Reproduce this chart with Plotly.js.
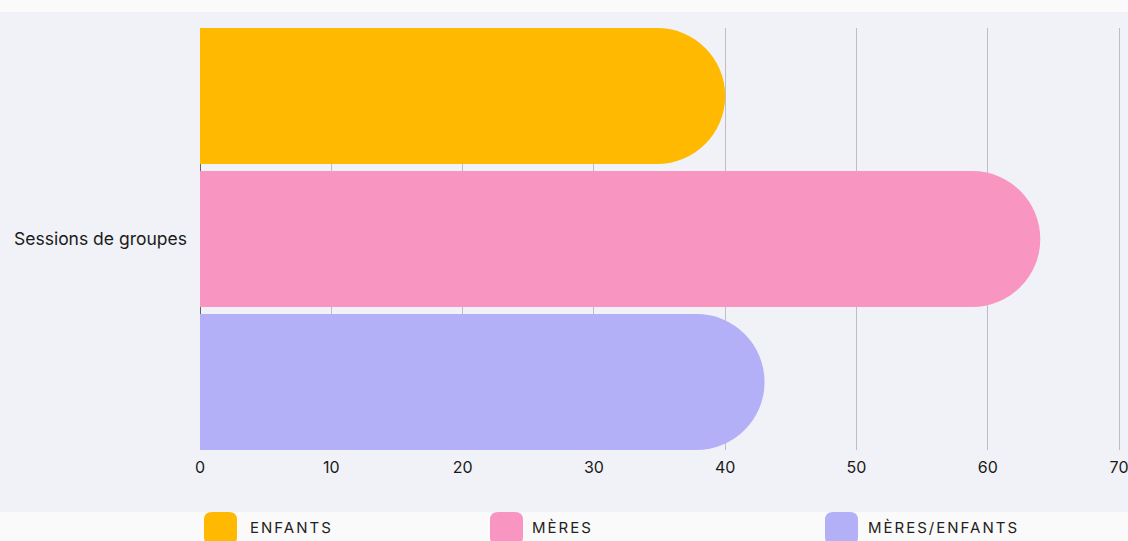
<!DOCTYPE html>
<html>
<head>
<meta charset="utf-8">
<script src="https://cdn.plot.ly/plotly-3.0.1.min.js"></script>
<style>
html,body{margin:0;padding:0;background:#fafafa;}
#chart{width:1128px;height:541px;}
.annotation-text{letter-spacing:2px;}
</style>
</head>
<body>
<div id="chart"></div>
<script>
// ---- data ----
const categories = ['Sessions de groupes'];
const seriesNames = ['ENFANTS', 'MÈRES', 'MÈRES/ENFANTS'];
const enfants = [40];
const meres = [64];
const meresEnfants = [43];
const xTickValues = [0, 10, 20, 30, 40, 50, 60, 70];

// ---- style ----
const colors = ['#FFB900', '#F995C1', '#B4B0F7'];
const W = 1128, H = 541;
const M = {l: 200, r: 5, t: 28, b: 91};
const PW = W - M.l - M.r, PH = H - M.t - M.b;
const fx = px => (px - M.l) / PW;
const fy = py => (H - M.b - py) / PH;

const seriesValues = [enfants, meres, meresEnfants];
const traces = seriesValues.map((vals, i) => ({
  type: 'bar',
  orientation: 'h',
  name: seriesNames[i],
  y: categories,
  x: vals,
  marker: {color: colors[i], cornerradius: '50%', line: {width: 0}},
  showlegend: false,
  hoverinfo: 'x+name'
}));

const g = 0.049;
const shapes = [{
  type: 'rect', xref: 'paper', yref: 'paper', layer: 'below',
  x0: fx(0), x1: fx(W), y0: fy(512), y1: fy(12),
  fillcolor: '#f1f2f7', line: {width: 0}
}];
const annotations = [];
const legX = [204, 490, 825];
const legTextX = [248, 530, 866];
function roundRect(x0, y0, x1, y1, r) {
  const X = fx, Y = fy;
  return 'M' + X(x0 + r) + ',' + Y(y0) +
    ' L' + X(x1 - r) + ',' + Y(y0) +
    ' Q' + X(x1) + ',' + Y(y0) + ' ' + X(x1) + ',' + Y(y0 + r) +
    ' L' + X(x1) + ',' + Y(y1 - r) +
    ' Q' + X(x1) + ',' + Y(y1) + ' ' + X(x1 - r) + ',' + Y(y1) +
    ' L' + X(x0 + r) + ',' + Y(y1) +
    ' Q' + X(x0) + ',' + Y(y1) + ' ' + X(x0) + ',' + Y(y1 - r) +
    ' L' + X(x0) + ',' + Y(y0 + r) +
    ' Q' + X(x0) + ',' + Y(y0) + ' ' + X(x0 + r) + ',' + Y(y0) + ' Z';
}
seriesNames.forEach((nm, i) => {
  shapes.push({
    type: 'path', xref: 'paper', yref: 'paper', layer: 'above',
    path: roundRect(legX[i], 512, legX[i] + 33, 545, 8),
    fillcolor: colors[i], line: {width: 0}
  });
  annotations.push({
    xref: 'paper', yref: 'paper', x: fx(legTextX[i]), y: fy(527),
    xanchor: 'left', yanchor: 'middle', showarrow: false,
    text: nm, font: {family: 'Inter, sans-serif', size: 15, color: '#222'}
  });
});

const layout = {
  width: W, height: H,
  margin: M,
  paper_bgcolor: '#fafafa',
  plot_bgcolor: 'rgba(0,0,0,0)',
  barmode: 'group',
  bargap: 0,
  bargroupgap: g,
  font: {family: 'Inter, sans-serif', size: 15, color: '#1a1a1a'},
  xaxis: {
    range: [0, 70.3],
    tickvals: xTickValues,
    ticktext: xTickValues.map(String),
    showgrid: true, gridcolor: '#bdbec4', gridwidth: 1,
    zeroline: true, zerolinecolor: '#666', zerolinewidth: 1,
    showline: false, ticks: '',
    ticklabelstandoff: 6,
    ticklabeloverflow: 'allow',
    tickfont: {family: 'Inter, sans-serif', size: 16, color: '#1a1a1a'},
    fixedrange: true
  },
  yaxis: {
    type: 'category',
    range: [0.5 - g / 6, -0.5 + g / 6],
    showgrid: false, zeroline: false, showline: false, ticks: '',
    ticklabelstandoff: 12,
    tickfont: {family: 'Inter, sans-serif', size: 17.5, color: '#1a1a1a'},
    fixedrange: true
  },
  shapes: shapes,
  annotations: annotations,
  showlegend: false
};

Plotly.newPlot('chart', traces, layout, {displayModeBar: false, staticPlot: true});
</script>
</body>
</html>
